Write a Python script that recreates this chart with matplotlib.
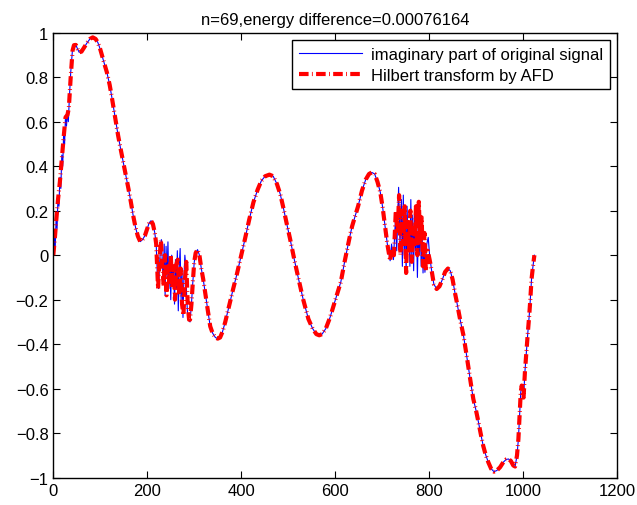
import numpy as np
import matplotlib
matplotlib.use("Agg")
import matplotlib.pyplot as plt

plt.rcParams['font.family'] = ['Liberation Sans', 'DejaVu Sans']
plt.rcParams['font.size'] = 12

# values, as (x, y) pairs
rise_blue = [(0, 0.0), (2, 0.08), (4, 0.03), (6, 0.17), (8, 0.12), (10, 0.27), (12, 0.22),
             (14, 0.35), (16, 0.30), (18, 0.45), (20, 0.40), (22, 0.55), (24, 0.50),
             (26, 0.63), (28, 0.58), (30, 0.64), (32, 0.60), (34, 0.70), (37, 0.82),
             (41, 0.93)]
rise_red = [(0, 0.0), (3, 0.07), (6, 0.15), (10, 0.25), (14, 0.33), (18, 0.43), (22, 0.53),
            (26, 0.62), (30, 0.63), (33, 0.66), (37, 0.80), (41, 0.92)]

smooth_a = [(44, 0.944), (48, 0.945), (52, 0.925), (55, 0.912), (60, 0.915), (66, 0.935),
            (72, 0.955), (78, 0.972), (84, 0.979), (90, 0.972), (95, 0.955), (100, 0.925),
            (106, 0.88), (114, 0.822), (120, 0.765), (124, 0.717), (130, 0.64), (138, 0.537),
            (144, 0.47), (149, 0.417), (155, 0.355), (160, 0.298), (165, 0.24), (170, 0.178),
            (175, 0.125), (180, 0.085), (185, 0.061), (190, 0.07), (195, 0.088), (200, 0.12),
            (204, 0.145), (208, 0.155), (212, 0.14), (216, 0.10), (219, 0.05)]

noisy1_blue = [(222, -0.12), (224, -0.15), (226, -0.05), (228, 0.03), (230, 0.07),
               (232, -0.02), (234, -0.12), (236, 0.05), (238, -0.18), (240, 0.04), (242, -0.10),
               (244, 0.06), (246, -0.15), (248, -0.02), (250, -0.2), (252, 0.0), (254, -0.12),
               (256, -0.05), (258, -0.22), (260, -0.02), (262, -0.15), (264, 0.02), (266, -0.25),
               (268, -0.05), (270, 0.03), (272, -0.2), (274, -0.08), (276, -0.28), (278, -0.1),
               (280, 0.0), (282, -0.05), (284, -0.2), (286, -0.27), (288, -0.29), (291, -0.30)]
noisy1_red = [(223, -0.15), (226, -0.02), (229, 0.07), (232, -0.05), (235, -0.14),
              (238, 0.0), (241, -0.18), (244, -0.05), (247, -0.12), (250, 0.0), (253, -0.15),
              (256, -0.05), (259, -0.2), (262, -0.04), (265, -0.02), (268, -0.18), (271, -0.06),
              (274, -0.22), (277, -0.27), (280, -0.12), (283, -0.03), (286, -0.22), (289, -0.29),
              (291, -0.29)]

smooth_b = [(294, -0.22), (297, -0.12), (300, -0.03), (303, 0.01), (307, 0.025), (311, 0.0),
            (315, -0.06), (319, -0.107), (324, -0.18), (329, -0.25), (334, -0.32), (339, -0.35),
            (345, -0.37), (350, -0.375), (355, -0.37), (360, -0.345), (366, -0.30),
            (371, -0.255), (376, -0.212), (383, -0.15), (390, -0.092), (399, -0.01),
            (408, 0.073), (417, 0.16), (426, 0.238), (435, 0.295), (443, 0.335), (451, 0.355),
            (460, 0.362), (468, 0.355), (476, 0.32), (483, 0.275), (490, 0.21), (497, 0.14),
            (504, 0.073), (513, -0.02), (522, -0.107), (532, -0.2), (543, -0.287), (552, -0.33),
            (560, -0.355), (566, -0.36), (572, -0.355), (580, -0.33), (589, -0.28), (599, -0.21),
            (612, -0.12), (620, -0.03), (630, 0.073), (636, 0.13), (643, 0.18), (649, 0.222),
            (657, 0.29), (665, 0.34), (672, 0.365), (678, 0.372), (684, 0.365), (690, 0.33),
            (696, 0.283), (701, 0.215), (706, 0.133), (711, 0.05), (717, -0.025)]

noisy2_blue = [(720, 0.05), (724, -0.02), (728, 0.15), (731, 0.02), (735, 0.305), (738, 0.05),
               (741, 0.25), (743, -0.05), (745, 0.27), (747, 0.0), (749, 0.2), (751, -0.08),
               (753, 0.22), (755, 0.05), (757, 0.15), (759, -0.05), (761, 0.25), (763, 0.0),
               (765, 0.18), (767, -0.07), (769, 0.2), (771, 0.02), (773, 0.15), (775, -0.1),
               (777, 0.12), (779, 0.0), (781, 0.18), (783, -0.05), (785, 0.1), (787, -0.08),
               (789, 0.05), (791, -0.077), (795, 0.05), (798, 0.08), (801, 0.0)]
noisy2_red = [(720, 0.03), (725, 0.0), (729, 0.2), (733, 0.1), (736, 0.27), (739, 0.0),
              (742, 0.2), (745, 0.05), (748, 0.22), (751, -0.08), (754, 0.15), (757, 0.02),
              (760, 0.2), (763, -0.03), (766, 0.12), (769, 0.05), (772, 0.22), (775, 0.0),
              (778, 0.24), (781, 0.05), (784, 0.17), (787, -0.05), (790, 0.1), (793, -0.07),
              (797, 0.02), (801, -0.02)]

smooth_c = [(805, -0.065), (810, -0.13), (816, -0.152), (822, -0.14), (828, -0.11),
            (834, -0.075), (840, -0.06), (845, -0.07), (850, -0.11), (855, -0.17), (859, -0.212),
            (866, -0.29), (873, -0.36), (879, -0.44), (884, -0.511), (889, -0.58), (894, -0.646),
            (900, -0.70), (905, -0.751), (910, -0.805), (915, -0.856), (920, -0.895),
            (926, -0.931), (932, -0.96), (938, -0.973), (944, -0.968), (951, -0.953),
            (958, -0.93), (964, -0.918), (969, -0.916), (974, -0.925), (979, -0.945),
            (983, -0.95), (987, -0.90), (990, -0.826), (993, -0.70), (995, -0.616),
            (997, -0.586), (999, -0.60), (1001, -0.64), (1004, -0.52), (1006, -0.46),
            (1008, -0.407), (1010, -0.35), (1013, -0.272), (1015, -0.21), (1018, -0.107),
            (1021, -0.05), (1024, 0.0)]

title = "n=69,energy difference=0.00076164"
labels = ["imaginary part of original signal", "Hilbert transform by AFD"]
xticks = [0, 200, 400, 600, 800, 1000, 1200]
yticks = [-1, -0.8, -0.6, -0.4, -0.2, 0, 0.2, 0.4, 0.6, 0.8, 1]

blue = np.array(rise_blue + smooth_a + noisy1_blue + smooth_b + noisy2_blue + smooth_c)
red = np.array(rise_red + smooth_a + noisy1_red + smooth_b + noisy2_red + smooth_c)

fig = plt.figure(figsize=(6.37, 5.06), dpi=100)
ax = fig.add_axes([0.0837, 0.054, 0.885, 0.8794])

ax.plot(blue[:, 0], blue[:, 1], color=(0, 0, 1), lw=0.8, label=labels[0])
ax.plot(red[:, 0], red[:, 1], color=(1, 0, 0), lw=3, dashes=(2.3, 0.8, 0.2, 0.8),
        label=labels[1])

ax.set_xlim(0, 1200)
ax.set_ylim(-1, 1)
ax.set_xticks(xticks)
ax.set_yticks(yticks)
ax.set_yticklabels([f"{v:g}".replace("-", "\u2212") for v in yticks])
ax.tick_params(direction='in', top=True, right=True, length=5, width=0.8, labelsize=12)
for s in ax.spines.values():
    s.set_linewidth(1)
ax.set_title(title, fontsize=12, pad=6)

leg = ax.legend(loc='upper right', fancybox=False, edgecolor='black', framealpha=1,
                fontsize=12, handlelength=3.8, borderaxespad=0.45, labelspacing=0.35,
                borderpad=0.4, handletextpad=0.5)
leg.get_frame().set_linewidth(1)

fig.savefig("out.png", dpi=100)
